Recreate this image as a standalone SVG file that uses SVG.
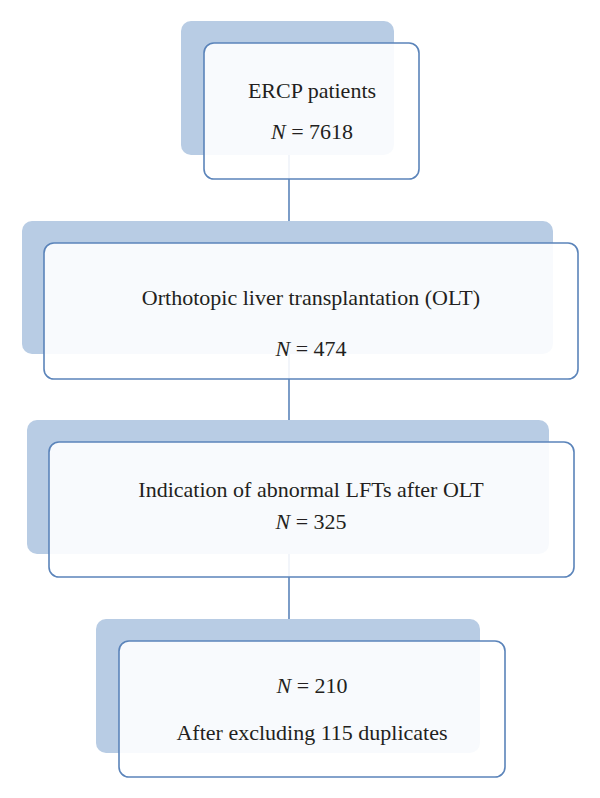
<svg xmlns="http://www.w3.org/2000/svg" width="600" height="798" viewBox="0 0 600 798">
<style>
.back{fill:#b8cce4;stroke:none}
.front{fill:#ffffff;fill-opacity:0.9;stroke:#5b84ba;stroke-width:1.6}
.conn{stroke:#5b84ba;stroke-width:1.6;fill:none}
text{font-family:"Liberation Serif","Times New Roman",serif;font-size:22px;fill:#231f20;text-anchor:middle}
.i{font-style:italic}
</style>
<rect width="600" height="798" fill="#ffffff"/>
<g id="connectors">
<line class="conn" x1="289" y1="155" x2="289" y2="221"/>
<line class="conn" x1="289" y1="354" x2="289" y2="420"/>
<line class="conn" x1="289" y1="553" x2="289" y2="619"/>
</g>
<g id="node-ercp">
<rect class="back" x="181" y="21" width="213" height="134" rx="10"/>
<rect class="front" x="204" y="43" width="215" height="136" rx="10"/>
<text x="312" y="98">ERCP patients</text>
<text x="312" y="139"><tspan class="i">N</tspan> = 7618</text>
</g>
<g id="node-olt">
<rect class="back" x="22" y="221" width="531" height="133" rx="10"/>
<rect class="front" x="44" y="243" width="534" height="136" rx="10"/>
<text x="311" y="305">Orthotopic liver transplantation (OLT)</text>
<text x="311" y="356"><tspan class="i">N</tspan> = 474</text>
</g>
<g id="node-lft">
<rect class="back" x="27" y="420" width="522" height="134" rx="10"/>
<rect class="front" x="49" y="442" width="525" height="135" rx="10"/>
<text x="311" y="497">Indication of abnormal LFTs after OLT</text>
<text x="311" y="529"><tspan class="i">N</tspan> = 325</text>
</g>
<g id="node-final">
<rect class="back" x="96" y="619" width="384" height="134" rx="10"/>
<rect class="front" x="119" y="641" width="386" height="136" rx="10"/>
<text x="312" y="693"><tspan class="i">N</tspan> = 210</text>
<text x="312" y="740">After excluding 115 duplicates</text>
</g>
</svg>
